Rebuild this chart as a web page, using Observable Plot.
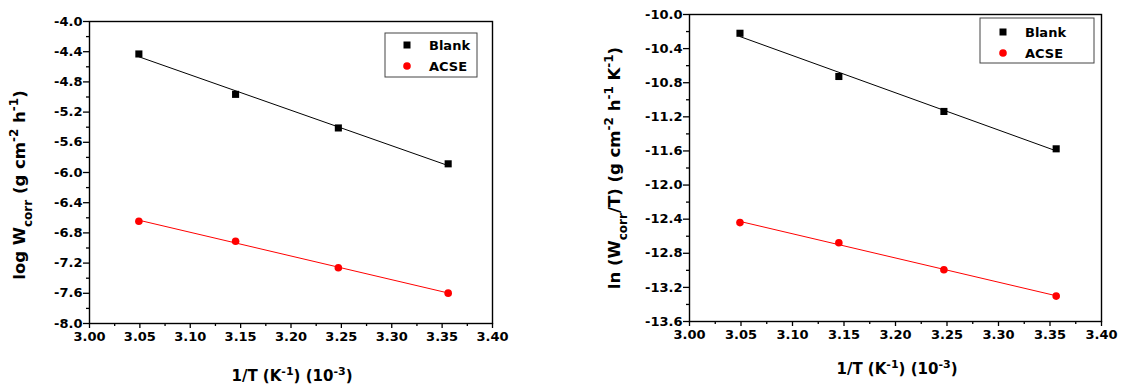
<!DOCTYPE html>
<html><head><meta charset="utf-8">
<script src="https://cdn.jsdelivr.net/npm/d3@7"></script>
<script src="https://cdn.jsdelivr.net/npm/@observablehq/plot@0.6"></script>
<style>
body{margin:0;background:#fff;}
#wrap{position:relative;width:1127px;height:387px;overflow:hidden;}
#wrap svg{position:absolute;top:0;}
#wrap svg text{font-weight:bold !important;}
#wrap svg g[aria-label="x-axis tick label"] text,
#wrap svg g[aria-label="y-axis tick label"] text{font-size:13px !important;font-family:"DejaVu Sans" !important;fill:#000;}
</style></head><body><div id="wrap"></div>
<script>
// ---- data ----
const invT = [3.049, 3.145, 3.247, 3.356];
const seriesNames = ["Blank", "ACSE"];
const seriesColors = ["#000000", "#ff0000"];
const logBlank = [-4.43, -4.965, -5.41, -5.885];
const logACSE = [-6.645, -6.91, -7.262, -7.598];
const lnBlank = [-10.22, -10.727, -11.137, -11.575];
const lnACSE = [-12.44, -12.677, -12.993, -13.302];
const xTicks = [3.00, 3.05, 3.10, 3.15, 3.20, 3.25, 3.30, 3.35, 3.40];
const xMinorTicks = [3.025, 3.075, 3.125, 3.175, 3.225, 3.275, 3.325, 3.375];
const yTicksLeft = [-8.0, -7.6, -7.2, -6.8, -6.4, -6.0, -5.6, -5.2, -4.8, -4.4, -4.0];
const yMinorLeft = [-7.8, -7.4, -7.0, -6.6, -6.2, -5.8, -5.4, -5.0, -4.6, -4.2];
const yTicksRight = [-13.6, -13.2, -12.8, -12.4, -12.0, -11.6, -11.2, -10.8, -10.4, -10.0];
const yMinorRight = [-13.4, -13.0, -12.6, -12.2, -11.8, -11.4, -11.0, -10.6, -10.2];

const toRows = ys => invT.map((x, i) => ({x, y: ys[i]}));
const FONT = "DejaVu Sans";

function panel(cfg) {
  const blank = toRows(cfg.blank), acse = toRows(cfg.acse);
  const ax = {label: null, strokeWidth: 1.3, fontSize: 13, fontWeight: "bold"};
  const svg = Plot.plot({
    width: cfg.width, height: 387,
    marginLeft: cfg.ml, marginRight: cfg.mr, marginTop: cfg.mt, marginBottom: cfg.mb,
    style: {fontFamily: FONT, fontWeight: "bold", fontSize: "13px", background: "#fff", color: "#000"},
    x: {domain: [3.0, 3.4]},
    y: {domain: cfg.ydomain},
    marks: [
      Plot.axisX(xTicks, {...ax, tickSize: 5, tickPadding: 3, tickFormat: d => d.toFixed(2)}),
      Plot.axisX(xMinorTicks, {...ax, tickSize: 3, tickFormat: () => ""}),
      Plot.axisY(cfg.yticks, {...ax, tickSize: 6, tickPadding: 1, tickFormat: d => d.toFixed(1)}),
      Plot.axisY(cfg.yminor, {...ax, tickSize: 3, tickFormat: () => ""}),
      Plot.frame({stroke: "#000", strokeWidth: 1.4}),
      Plot.linearRegressionY(blank, {x: "x", y: "y", stroke: seriesColors[0], strokeWidth: 1, ci: 0}),
      Plot.linearRegressionY(acse, {x: "x", y: "y", stroke: seriesColors[1], strokeWidth: 1, ci: 0}),
      Plot.dot(blank, {x: "x", y: "y", symbol: "square", fill: seriesColors[0], r: 4}),
      Plot.dot(acse, {x: "x", y: "y", symbol: "circle", fill: seriesColors[1], r: 3.8})
    ]
  });
  svg.style.left = cfg.left + "px";
  const s = d3.select(svg);
  // axis titles
  const yl = s.append("text")
    .attr("transform", `translate(${cfg.ylx},${cfg.yly}) rotate(-90)`)
    .attr("text-anchor", "middle")
    .attr("font-family", FONT).attr("font-weight", "bold").attr("font-size", 16.5);
  cfg.ylabel.forEach(([t, kind]) => {
    const ts = yl.append("tspan").text(t);
    if (kind) ts.attr("baseline-shift", kind).attr("font-size", 12);
  });
  const xl = s.append("text")
    .attr("x", cfg.xlx).attr("y", cfg.xly)
    .attr("text-anchor", "middle")
    .attr("font-family", FONT).attr("font-weight", "bold").attr("font-size", 15);
  [["1/T (K", null], ["-1", "super"], [") (10", null], ["-3", "super"], [")", null]].forEach(([t, kind]) => {
    const ts = xl.append("tspan").text(t);
    if (kind) ts.attr("baseline-shift", kind).attr("font-size", 11);
  });
  // legend
  const L = cfg.legend;
  const g = s.append("g");
  g.append("rect").attr("x", L.x).attr("y", L.y).attr("width", L.w).attr("height", L.h)
    .attr("fill", "#fff").attr("stroke", "#444").attr("stroke-width", 1);
  seriesNames.forEach((name, i) => {
    const cy = L.y + L.r0 + i * L.dy;
    if (i === 0) g.append("rect").attr("x", L.sx - 3.5).attr("y", cy - 3.5).attr("width", 7).attr("height", 7).attr("fill", seriesColors[i]);
    else g.append("circle").attr("cx", L.sx).attr("cy", cy).attr("r", 3.8).attr("fill", seriesColors[i]);
    g.append("text").attr("x", L.tx).attr("y", cy + 5).text(name)
      .attr("text-anchor", "start")
      .attr("font-family", FONT).attr("font-weight", "bold").attr("font-size", 13);
  });
  document.getElementById("wrap").appendChild(svg);
}

panel({
  left: 0, width: 540, ml: 89, mr: 48, mt: 21, mb: 64,
  ydomain: [-8.0, -4.0], yticks: yTicksLeft, yminor: yMinorLeft,
  blank: logBlank, acse: logACSE,
  ylabel: [["log W", null], ["corr", "sub"], [" (g cm", null], ["-2", "super"], [" h", null], ["-1", "super"], [")", null]],
  ylx: 25, yly: 185, xlx: 292, xly: 381,
  legend: {x: 385, y: 33, w: 92, h: 44, r0: 12, dy: 21, sx: 407, tx: 429}
});
panel({
  left: 560, width: 567, ml: 129, mr: 26, mt: 14, mb: 66,
  ydomain: [-13.6, -10.0], yticks: yTicksRight, yminor: yMinorRight,
  blank: lnBlank, acse: lnACSE,
  ylabel: [["ln (W", null], ["corr", "sub"], ["/T) (g cm", null], ["-2", "super"], [" h", null], ["-1", "super"], [" K", null], ["-1", "super"], [")", null]],
  ylx: 60, yly: 168, xlx: 337, xly: 374,
  legend: {x: 420, y: 18, w: 114, h: 45, r0: 14, dy: 21, sx: 443, tx: 465}
});
</script></body></html>
